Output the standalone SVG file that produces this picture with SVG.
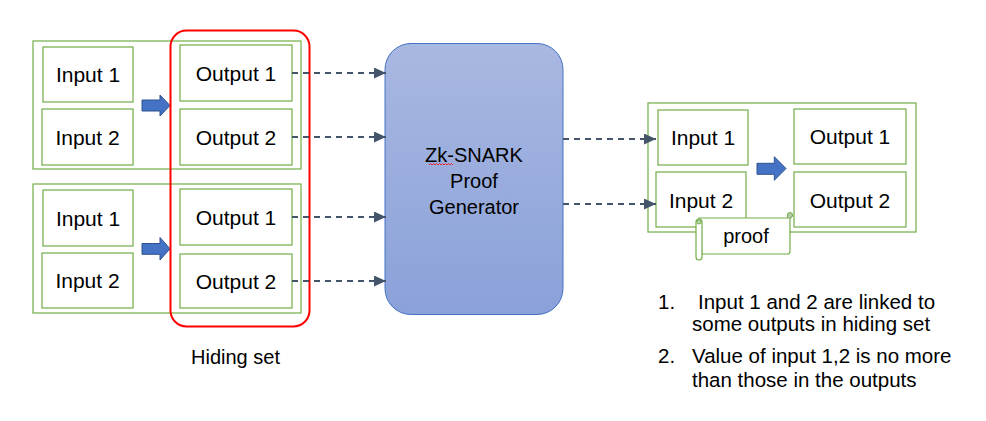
<svg xmlns="http://www.w3.org/2000/svg" width="986" height="421" viewBox="0 0 986 421">
<style>
  .box { fill: #ffffff; stroke: #70ad47; stroke-width: 1.2; }
  .outer { fill: none; stroke: #70ad47; stroke-width: 1.2; }
  .lbl { font-family: "Liberation Sans", Arial, sans-serif; font-size: 21px; fill: #000000; text-anchor: middle; }
  .txt { font-family: "Liberation Sans", Arial, sans-serif; font-size: 20px; fill: #000000; }
  .note { font-family: "Liberation Sans", Arial, sans-serif; font-size: 20.5px; fill: #000000; }
  .barrow { fill: #4472c4; stroke: #2f528f; stroke-width: 1; }
  .dash { fill: none; stroke: #44546a; stroke-width: 2; stroke-dasharray: 6 5; marker-end: url(#ah); }
</style>
<defs>
  <marker id="ah" markerWidth="12" markerHeight="11" refX="12" refY="5.5" orient="auto" markerUnits="userSpaceOnUse">
    <path d="M0,0 L12,5.5 L0,11 Z" fill="#44546a"/>
  </marker>
  <linearGradient id="zkg" x1="0" y1="0" x2="0" y2="1">
    <stop offset="0" stop-color="#a9b8e1"/>
    <stop offset="1" stop-color="#8aa1d9"/>
  </linearGradient>
</defs>
<rect width="986" height="421" fill="#ffffff"/>

<g id="tx1">
  <rect class="outer" x="33" y="41" width="268" height="128"/>
  <rect class="box" x="43" y="47" width="90" height="55"/>
  <text class="lbl" x="88" y="82">Input 1</text>
  <rect class="box" x="42" y="109" width="91" height="56"/>
  <text class="lbl" x="87.5" y="144.5">Input 2</text>
  <polygon class="barrow" points="142,100 160,100 160,95 170,105.5 160,116 160,111 142,111"/>
  <rect class="box" x="180" y="45" width="112" height="56"/>
  <text class="lbl" x="236" y="81">Output 1</text>
  <rect class="box" x="180" y="109" width="112" height="56"/>
  <text class="lbl" x="236" y="144.5">Output 2</text>
</g>

<g id="tx2">
  <rect class="outer" x="33" y="184" width="268" height="129"/>
  <rect class="box" x="43" y="190" width="90" height="56"/>
  <text class="lbl" x="88" y="225.5">Input 1</text>
  <rect class="box" x="42" y="253" width="91" height="55"/>
  <text class="lbl" x="87.5" y="288">Input 2</text>
  <polygon class="barrow" points="142,243.5 160,243.5 160,237.5 170,248.8 160,260 160,254.3 142,254.3"/>
  <rect class="box" x="180" y="189" width="112" height="56"/>
  <text class="lbl" x="236" y="224.5">Output 1</text>
  <rect class="box" x="180" y="254" width="112" height="54"/>
  <text class="lbl" x="236" y="288.5">Output 2</text>
</g>

<g id="hiding-set">
  <rect x="170.5" y="30.5" width="139" height="296" rx="16" ry="16" fill="none" stroke="#ff0000" stroke-width="2"/>
  <text class="txt" x="191" y="364">Hiding set</text>
</g>

<g id="zk-snark">
  <rect x="385" y="43.5" width="178" height="271" rx="26" ry="26" fill="url(#zkg)" stroke="#4472c4" stroke-width="1"/>
  <text class="txt" x="474" y="162" text-anchor="middle" font-size="20.5">Zk-SNARK</text>
  <path d="M429,165 l1.5,-1.5 l1.5,1.5 l1.5,-1.5 l1.5,1.5 l1.5,-1.5 l1.5,1.5 l1.5,-1.5 l1.5,1.5 l1.5,-1.5 l1.5,1.5 l1.5,-1.5 l1.5,1.5 l1.5,-1.5 l1.5,1.5 l1.5,-1.5 l1.5,1.5" fill="none" stroke="#ff0000" stroke-width="0.8"/>
  <text class="txt" x="474" y="187.5" text-anchor="middle" font-size="21">Proof</text>
  <text class="txt" x="474" y="213.5" text-anchor="middle" font-size="21">Generator</text>
</g>

<g id="tx-result">
  <rect class="outer" x="648" y="103" width="268" height="129"/>
  <rect class="box" x="658" y="110" width="90" height="55"/>
  <text class="lbl" x="703" y="145">Input 1</text>
  <rect class="box" x="656" y="172" width="90" height="55"/>
  <text class="lbl" x="701" y="207.5">Input 2</text>
  <polygon class="barrow" points="757,163.3 774.3,163.3 774.3,156.7 786,168.5 774.3,180.3 774.3,174.3 757,174.3"/>
  <rect class="box" x="794" y="109" width="112" height="55"/>
  <text class="lbl" x="850" y="143.5">Output 1</text>
  <rect class="box" x="794" y="172" width="112" height="55"/>
  <text class="lbl" x="850" y="207.5">Output 2</text>
</g>

<g id="proof">
  <path d="M699,218 H790 V251.5 Q790,254 787.5,254 H702 Z" fill="#ffffff" stroke="#70ad47" stroke-width="1.2"/>
  <rect x="696" y="219" width="6" height="41" rx="3" ry="3" fill="#ffffff" stroke="#70ad47" stroke-width="1.2"/>
  <circle cx="699" cy="222" r="2" fill="#c5d9b5" stroke="#70ad47" stroke-width="1"/>
  <path d="M787.5,218 V215 A2.5,2.5 0 0 1 792.5,215 A2.5,2.5 0 0 1 790,218" fill="#b4c7a6" stroke="#70ad47" stroke-width="1"/>
  <text class="txt" x="746" y="243" text-anchor="middle" font-size="21">proof</text>
</g>

<g id="connectors">
  <line class="dash" x1="292" y1="73" x2="386" y2="73"/>
  <line class="dash" x1="292" y1="137" x2="386" y2="137"/>
  <line class="dash" x1="292" y1="217" x2="386" y2="217"/>
  <line class="dash" x1="292" y1="281" x2="386" y2="281"/>
  <line class="dash" x1="563" y1="139" x2="656" y2="139"/>
  <line class="dash" x1="563" y1="204" x2="656" y2="204"/>
</g>

<g id="notes">
  <text class="note" x="658" y="309">1.</text>
  <text class="note" x="698" y="309">Input 1 and 2 are linked to</text>
  <text class="note" x="692" y="331">some outputs in hiding set</text>
  <text class="note" x="658" y="363">2.</text>
  <text class="note" x="692" y="363">Value of input 1,2 is no more</text>
  <text class="note" x="692" y="387">than those in the outputs</text>
</g>
</svg>
